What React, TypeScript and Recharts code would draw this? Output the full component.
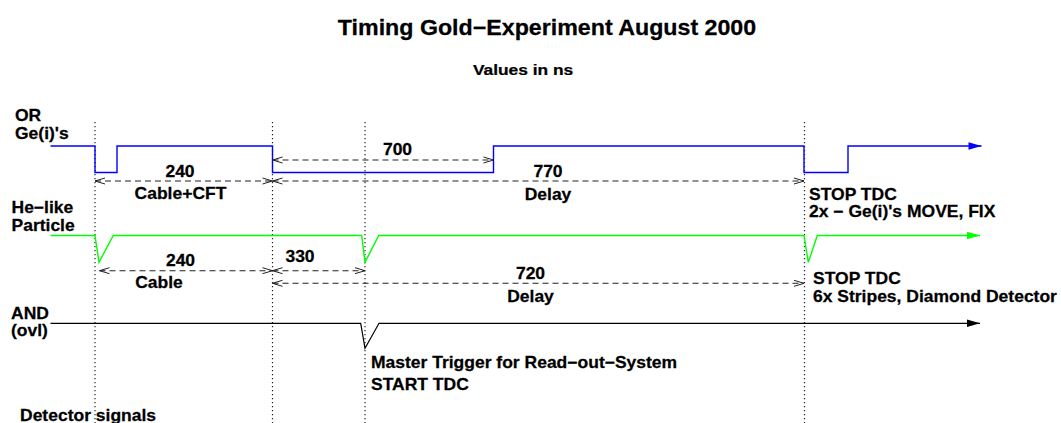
import React from 'react';
import { LineChart, Line, XAxis, YAxis, ReferenceLine, Customized } from 'recharts';

const W = 1061;
const H = 423;

// Signal traces (diagram is not to scale: x = position along the time axis, y = drawing level)
const orGeX = [50.5, 95, 95, 117, 117, 272.5, 272.5, 493.5, 493.5, 804, 804, 848, 848, 981.5];
const orGeY = [146, 146, 172.5, 172.5, 146, 146, 172.5, 172.5, 146, 146, 172.5, 172.5, 146, 146];
const heLikeX = [50.5, 95, 99, 113.3, 361.7, 365, 378.7, 804, 808.3, 817.3, 980];
const heLikeY = [235.5, 235.5, 262.3, 235.5, 235.5, 262.3, 235.5, 235.5, 262.3, 235.5, 235.5];
const andX = [50.5, 360.7, 365, 379, 980];
const andY = [323.3, 323.3, 348.3, 323.3, 323.3];

// Marked instants (dotted verticals)
const markX = [95, 272.5, 365, 804.5];
const markTop = 122;

// Measured intervals (ns) and their extent in the diagram
const intervalNs = [240, 700, 770, 240, 330, 720];
const intervalStart = [95, 272.5, 272.5, 99.5, 272.5, 272.5];
const intervalEnd = [272.5, 493.5, 804, 272.5, 365, 804];
const intervalLevel = [181, 160, 181, 270.7, 270.7, 283.3];

const signalNames = [['OR', "Ge(i)'s"], ['He\u2212like', 'Particle'], ['AND', '(ovl)']];
const title = 'Timing Gold\u2212Experiment August 2000';
const subtitle = 'Values in ns';

const toPts = (xs: number[], ys: number[]) => xs.map((x, i) => ({ x, y: ys[i] }));

const FONT = '"Liberation Sans", Arial, Helvetica, sans-serif';

function T({ x, y, children, size = 16.5, anchor = 'start', sx = 1.06 }: any) {
  return (
    <text
      transform={`translate(${x},${y}) scale(${sx},1)`}
      textAnchor={anchor}
      fontSize={size}
      fontWeight="bold"
      fontFamily={FONT}
      fill="#000"
      stroke="#000"
      strokeWidth={0.25}
    >
      {children}
    </text>
  );
}

const endArrow = (color: string, n: number) => (props: any) => {
  const { cx, cy, index } = props;
  if (index !== n - 1) return <g key={`d-${index}`} />;
  return (
    <path
      key={`d-${index}`}
      d={`M${cx},${cy} L${cx - 13},${cy - 3.7} L${cx - 13},${cy + 3.7} Z`}
      fill={color}
      stroke="none"
    />
  );
};

const openArrows = (props: any) => {
  const { cx, cy, index } = props;
  const dir = index === 0 ? 1 : -1;
  return (
    <path
      key={`a-${index}`}
      d={`M${cx + dir * 10},${cy - 3} L${cx},${cy} L${cx + dir * 10},${cy + 3}`}
      fill="none"
      stroke="#222"
      strokeWidth={1}
      strokeDasharray="none"
    />
  );
};

function Texts() {
  const v = intervalNs.map(String);
  return (
    <g>
      <T x={547} y={35} size={21.5} anchor="middle" sx={1.08}>{title}</T>
      <T x={523} y={75} size={15.5} anchor="middle" sx={1.12}>{subtitle}</T>

      <T x={15} y={120.7}>{signalNames[0][0]}</T>
      <T x={15} y={138.5}>{signalNames[0][1]}</T>
      <T x={11.5} y={213}>{signalNames[1][0]}</T>
      <T x={11.5} y={230.5}>{signalNames[1][1]}</T>
      <T x={11} y={319}>{signalNames[2][0]}</T>
      <T x={11} y={335.5}>{signalNames[2][1]}</T>

      <T x={180} y={177} anchor="middle">{v[0]}</T>
      <T x={180.5} y={199} anchor="middle">Cable+CFT</T>
      <T x={397.5} y={155} anchor="middle">{v[1]}</T>
      <T x={548} y={177} anchor="middle">{v[2]}</T>
      <T x={548} y={199.5} anchor="middle">Delay</T>

      <T x={180.5} y={266} anchor="middle">{v[3]}</T>
      <T x={159} y={288} anchor="middle">Cable</T>
      <T x={300} y={262} anchor="middle">{v[4]}</T>
      <T x={530.5} y={279} anchor="middle">{v[5]}</T>
      <T x={530.5} y={301.5} anchor="middle">Delay</T>

      <T x={809} y={200}>STOP TDC</T>
      <T x={809} y={216.5}>{"2x \u2212 Ge(i)'s MOVE, FIX"}</T>
      <T x={813} y={284}>STOP TDC</T>
      <T x={813} y={301.5}>6x Stripes, Diamond Detector</T>
      <T x={371} y={367.5}>{'Master Trigger for Read\u2212out\u2212System'}</T>
      <T x={371} y={390}>START TDC</T>
      <T x={20} y={420.5}>Detector signals</T>
    </g>
  );
}

export default function App() {
  return (
    <div style={{ position: 'absolute', left: 0, top: 0, width: W, height: H, background: '#fff' }}>
      <LineChart width={W} height={H} margin={{ top: 0, right: 0, bottom: 0, left: 0 }}>
        <XAxis type="number" dataKey="x" domain={[0, W]} hide allowDataOverflow />
        <YAxis type="number" dataKey="y" domain={[0, H]} reversed hide allowDataOverflow />

        {markX.map((x, i) => (
          <ReferenceLine
            key={`m-${i}`}
            segment={[{ x, y: markTop }, { x, y: H }]}
            stroke="#222"
            strokeWidth={1.2}
            strokeDasharray="1.2 2.8"
            ifOverflow="visible"
          />
        ))}

        {intervalNs.map((ns, i) => (
          <Line
            key={`iv-${i}`}
            name={`interval ${ns}`}
            data={[{ x: intervalStart[i], y: intervalLevel[i] }, { x: intervalEnd[i], y: intervalLevel[i] }]}
            dataKey="y"
            type="linear"
            stroke="#222"
            strokeWidth={1.1}
            strokeDasharray="6 4"
            dot={openArrows}
            activeDot={false}
            isAnimationActive={false}
          />
        ))}

        <Line
          name="OR Ge(i)'s"
          data={toPts(orGeX, orGeY)}
          dataKey="y"
          type="linear"
          stroke="#0000ff"
          strokeWidth={1.4}
          dot={endArrow('#0000ff', orGeX.length)}
          activeDot={false}
          isAnimationActive={false}
        />
        <Line
          name="He-like Particle"
          data={toPts(heLikeX, heLikeY)}
          dataKey="y"
          type="linear"
          stroke="#00ff00"
          strokeWidth={1.4}
          dot={endArrow('#00ff00', heLikeX.length)}
          activeDot={false}
          isAnimationActive={false}
        />
        <Line
          name="AND (ovl)"
          data={toPts(andX, andY)}
          dataKey="y"
          type="linear"
          stroke="#000"
          strokeWidth={1.2}
          dot={endArrow('#000', andX.length)}
          activeDot={false}
          isAnimationActive={false}
        />
        <Customized component={<Texts />} />
      </LineChart>
    </div>
  );
}
